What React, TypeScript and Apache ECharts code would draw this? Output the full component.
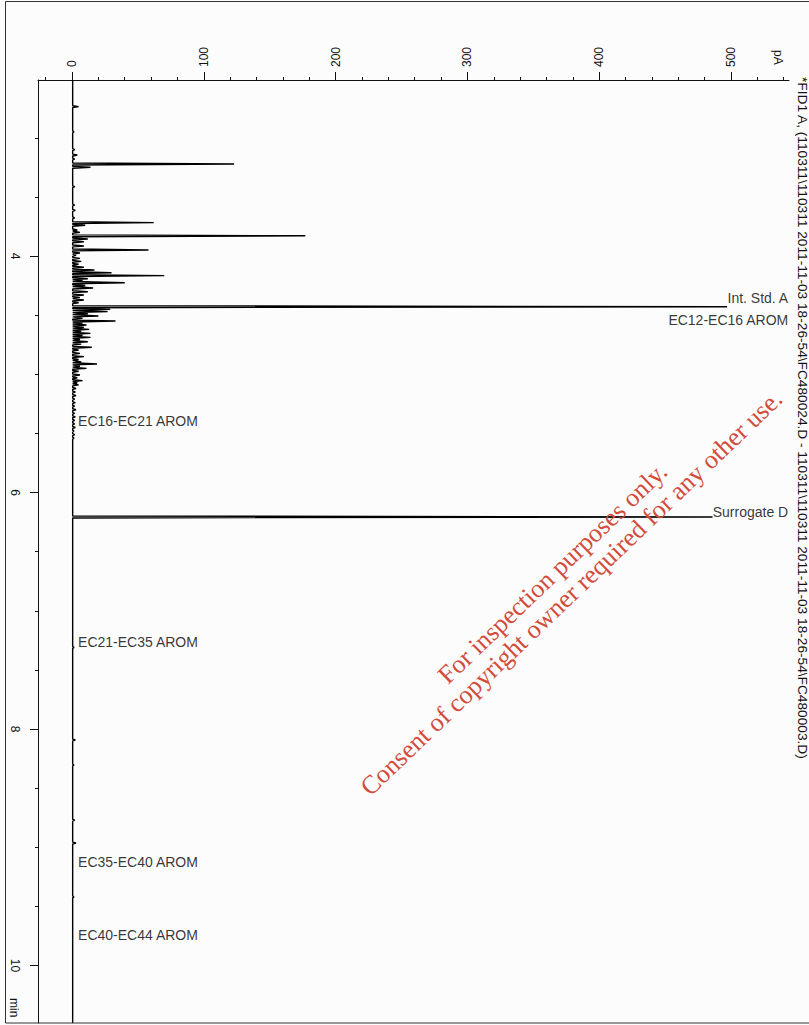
import React, { useEffect, useRef } from "react";
import * as echarts from "echarts";

// ---- data ----
const peakTimes = [
  2.737, 2.95, 3.1, 3.146, 3.18, 3.222, 3.25, 3.414, 3.569, 3.614, 3.678, 3.718, 3.74, 3.78, 3.8,
  3.829, 3.856, 3.88, 3.915, 3.949, 3.975, 3.995, 4.02, 4.045, 4.07, 4.095, 4.118, 4.141, 4.166,
  4.192, 4.208, 4.226, 4.25, 4.271, 4.302, 4.33, 4.352, 4.372, 4.395, 4.429, 4.451, 4.47, 4.488,
  4.507, 4.527, 4.55, 4.567, 4.584, 4.602, 4.62, 4.637, 4.654, 4.671, 4.688, 4.706, 4.725, 4.745,
  4.772, 4.795, 4.823, 4.851, 4.875, 4.895, 4.913, 4.932, 4.95, 4.975, 5.006, 5.03, 5.054, 5.072,
  5.09, 5.12, 5.15, 5.18, 5.21, 5.24, 5.27, 5.3, 5.33, 5.36, 5.39, 5.42, 5.45, 5.48, 5.51, 5.54,
  6.207, 7.31, 8.093, 8.304, 8.77, 8.964, 9.42,
];
const peakHeights = [
  5, 1.5, 2, 4, 2, 123, 14, 2, 2, 2.5, 2, 62, 10, 4, 6,
  177, 12, 9, 9, 58, 6, 3, 6, 7, 5, 9, 17, 30, 70,
  12, 8, 40, 10, 16, 12, 9, 6, 9, 5, 497, 29, 27, 12,
  20, 8, 33, 8, 11, 9, 13, 7, 14, 8, 14, 6, 12, 7,
  15, 5, 6, 9, 5, 7, 19, 6, 11, 5, 6, 4, 8, 4,
  5, 3, 2.5, 3, 2, 2.5, 2, 3, 2, 2.5, 2, 2, 2.5, 1.5, 2, 1.5,
  486, 1.5, 2.5, 1.5, 2, 3, 1.5,
];
const baselineLevel = 0.5;

const pAMajorTicks = [0, 100, 200, 300, 400, 500];
const pAMinorTicks = [
  -20, 0, 20, 40, 60, 80, 100, 120, 140, 160, 180, 200, 220, 240, 260, 280, 300, 320, 340, 360,
  380, 400, 420, 440, 460, 480, 500, 520, 540,
];
const timeMajorTicks = [4, 6, 8, 10];
const timeMinorTicks = [3, 3.5, 4, 4.5, 5, 5.5, 6, 6.5, 7, 7.5, 8, 8.5, 9, 9.5, 10];

const annTexts = [
  "Int. Std. A",
  "EC12-EC16 AROM",
  "Surrogate D",
  "EC16-EC21 AROM",
  "EC21-EC35 AROM",
  "EC35-EC40 AROM",
  "EC40-EC44 AROM",
];
const annTimes = [4.355, 4.541, 6.161, 5.395, 7.264, 9.125, 9.742];
const annSides = ["right", "right", "right", "left", "left", "left", "left"];

const titleText =
  "*FID1 A, (110311\\110311 2011-11-03 18-26-54\\FC480024.D - 110311\\110311 2011-11-03 18-26-54\\FC480003.D)";
const watermarkLines = [
  "For inspection purposes only.",
  "Consent of copyright owner required for any other use.",
];

// ---- layout constants ----
const PA_MIN = -25.8;
const PA_MAX = 544.0;
const T_MIN = 2.5116;
const T_MAX = 10.486;
const HW = 0.008;
const FONT = '"Liberation Sans", Arial, sans-serif';

export default function App() {
  const ref = useRef<HTMLDivElement>(null);
  useEffect(() => {
    if (!ref.current) return;
    const chart = echarts.init(ref.current, undefined, { renderer: "svg" });

    const trace: number[][] = [[baselineLevel, T_MIN]];
    peakTimes.forEach((t, i) => {
      trace.push([baselineLevel, t - HW], [peakHeights[i], t], [baselineLevel, t + HW]);
    });
    trace.push([baselineLevel, T_MAX]);

    const annData = annTexts.map((txt, i) => ({
      name: txt,
      value: [annSides[i] === "right" ? PA_MAX - 0.6 : 4.6, annTimes[i]],
      label: { position: annSides[i] === "right" ? "left" : "right" },
    }));

    const axisColor = "#111";
    const xBase = {
      type: "value",
      position: "top",
      min: PA_MIN,
      max: PA_MAX,
      splitLine: { show: false },
    };
    const yBase = {
      type: "value",
      position: "left",
      inverse: true,
      min: T_MIN,
      max: T_MAX,
      splitLine: { show: false },
    };

    chart.setOption({
      animation: false,
      backgroundColor: "#fcfcfc",
      grid: { left: 38, top: 80, width: 751, height: 943, containLabel: false },
      xAxis: [
        {
          ...xBase,
          axisLine: { show: true, onZero: false, lineStyle: { color: axisColor, width: 1 } },
          axisTick: { show: true, customValues: pAMinorTicks, length: 3, lineStyle: { color: axisColor } },
          axisLabel: { show: false },
        },
        {
          ...xBase,
          axisLine: { show: false, onZero: false },
          axisTick: { show: true, customValues: pAMajorTicks, length: 8, lineStyle: { color: axisColor } },
          axisLabel: {
            show: true,
            customValues: pAMajorTicks,
            rotate: -90,
            margin: 13,
            fontSize: 12,
            fontFamily: FONT,
            color: axisColor,
          },
        },
      ],
      yAxis: [
        {
          ...yBase,
          axisLine: { show: true, onZero: false, lineStyle: { color: axisColor, width: 1 } },
          axisTick: { show: true, customValues: timeMinorTicks, length: 3, lineStyle: { color: axisColor } },
          axisLabel: { show: false },
        },
        {
          ...yBase,
          axisLine: { show: false, onZero: false },
          axisTick: { show: true, customValues: timeMajorTicks, length: 8, lineStyle: { color: axisColor } },
          axisLabel: {
            show: true,
            customValues: timeMajorTicks,
            rotate: -90,
            margin: 17,
            fontSize: 12,
            fontFamily: FONT,
            color: axisColor,
          },
        },
      ],
      series: [
        {
          type: "line",
          xAxisIndex: 0,
          yAxisIndex: 0,
          data: trace,
          showSymbol: false,
          symbol: "none",
          clip: true,
          lineStyle: { color: "#000", width: 1.4 },
        },
        {
          type: "scatter",
          xAxisIndex: 0,
          yAxisIndex: 0,
          data: annData,
          symbolSize: 0,
          clip: false,
          label: {
            show: true,
            formatter: "{b}",
            distance: 0,
            fontSize: 14,
            fontFamily: FONT,
            color: "#000",
          },
        },
      ],
      graphic: [
        {
          type: "rect",
          shape: { x: 5.5, y: 1.5, width: 830, height: 1021.5 },
          style: { fill: "none", stroke: "#333", lineWidth: 1 },
          z: 10,
        },
        {
          type: "text",
          x: 802,
          y: 77,
          rotation: -Math.PI / 2,
          style: {
            text: titleText,
            font: `13.7px ${FONT}`,
            fill: "#111",
            align: "left",
            verticalAlign: "middle",
          },
        },
        {
          type: "text",
          x: 778,
          y: 50,
          rotation: -Math.PI / 2,
          style: { text: "pA", font: `12px ${FONT}`, fill: "#111", align: "left", verticalAlign: "middle" },
        },
        {
          type: "text",
          x: 14,
          y: 998,
          rotation: -Math.PI / 2,
          style: { text: "min", font: `12px ${FONT}`, fill: "#111", align: "left", verticalAlign: "middle" },
        },
        {
          type: "text",
          x: 562,
          y: 583,
          rotation: (43.8 * Math.PI) / 180,
          z: 100,
          style: {
            text: watermarkLines.join("\n"),
            font: '26px "Liberation Serif", "Times New Roman", serif',
            fill: "#d24b3b",
            align: "center",
            verticalAlign: "middle",
            lineHeight: 27,
          },
        },
      ],
    });
    return () => chart.dispose();
  }, []);
  return (
    <div
      ref={ref}
      style={{ position: "absolute", left: 0, top: 0, width: 809, height: 1025 }}
    />
  );
}
